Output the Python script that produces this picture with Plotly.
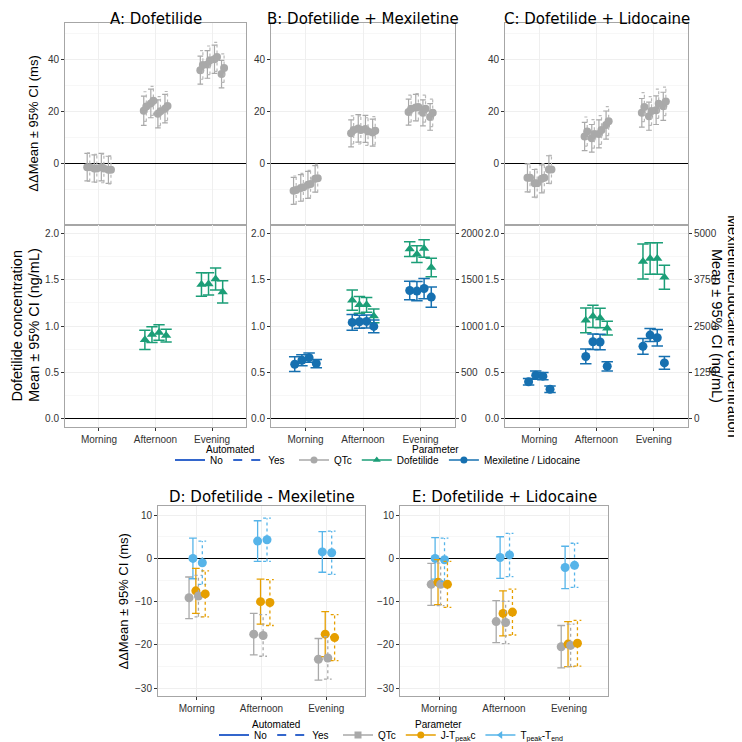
import plotly.graph_objects as go

W = H = 742

# ---------------- data ----------------
categories = ["Morning", "Afternoon", "Evening"]

# Top row: QTc  ddMean (ms); per category 4 sub-timepoints, Automated No / Yes
qtc_a_no = [[-1.5, -2.0, -1.5, -2.5], [20.2, 23.0, 19.0, 21.0], [35.8, 38.0, 40.0, 34.3]]
qtc_a_yes = [[-1.5, -2.0, -2.0, -2.5], [21.8, 24.0, 20.0, 22.0], [37.8, 39.6, 40.9, 36.6]]
qtc_a_ci_no = [[5.3, 5.2, 5.3, 5.2], [5.6, 5.5, 5.4, 5.5], [5.4, 5.3, 5.4, 5.3]]
qtc_a_ci_yes = [[5.5, 5.4, 5.5, 5.4], [5.7, 5.6, 5.6, 5.6], [5.5, 5.5, 5.6, 5.5]]

qtc_b_no = [[-10.6, -9.5, -8.3, -6.0], [11.5, 13.4, 13.2, 11.8], [19.7, 21.4, 19.4, 17.8]]
qtc_b_yes = [[-10.3, -9.2, -8.0, -5.8], [12.8, 12.8, 12.2, 12.5], [21.0, 21.6, 21.0, 19.4]]
qtc_b_ci_no = [[5.2, 5.1, 5.2, 5.1], [5.2, 5.3, 5.2, 5.2], [5.0, 5.1, 5.0, 5.1]]
qtc_b_ci_yes = [[5.4, 5.3, 5.3, 5.4], [5.4, 5.4, 5.3, 5.4], [5.2, 5.2, 5.2, 5.3]]

qtc_c_no = [[-5.6, -7.7, -6.0, -2.4], [10.3, 9.6, 11.3, 14.7], [19.4, 18.1, 20.4, 21.9]]
qtc_c_yes = [[-5.6, -7.7, -5.6, -2.4], [12.2, 11.3, 12.8, 16.2], [21.6, 20.1, 22.9, 23.8]]
qtc_c_ci_no = [[5.4, 5.3, 5.4, 5.3], [5.4, 5.3, 5.4, 5.4], [5.5, 5.4, 5.5, 5.4]]
qtc_c_ci_yes = [[5.5, 5.5, 5.5, 5.4], [5.6, 5.5, 5.5, 5.6], [5.6, 5.5, 5.6, 5.5]]

# Middle row: concentrations (ng/mL); None = not measured
dof_a = [None, [0.85, 0.907, 0.93, 0.896], [1.45, 1.457, 1.51, 1.37]]
dof_a_ci = [None, [0.105, 0.085, 0.085, 0.068], [0.128, 0.12, 0.12, 0.12]]
dof_b = [None, [1.28, 1.23, 1.23, 1.11], [1.835, 1.78, 1.84, 1.635]]
dof_b_ci = [None, [0.11, 0.09, 0.08, 0.075], [0.08, 0.09, 0.095, 0.1]]
dof_c = [None, [1.062, 1.105, 1.087, 0.977], [1.70, 1.733, 1.733, 1.53]]
dof_c_ci = [None, [0.135, 0.12, 0.105, 0.075], [0.19, 0.17, 0.17, 0.13]]
mex_b = [[586, 629, 657, 593], [1039, 1046, 1050, 996], [1386, 1379, 1407, 1314]]
mex_b_ci = [[80, 60, 50, 45], [85, 70, 70, 70], [100, 105, 110, 110]]
lido_c = [[990, 1168, 1140, 785], [1675, 2075, 2068, 1408], [1950, 2255, 2183, 1500]]
lido_c_ci = [[88, 112, 100, 88], [200, 212, 212, 125], [212, 175, 225, 175]]

# Bottom row: ddMean (ms) per category, Automated No / Yes
d_qtc_no = [-9.1, -17.5, -23.3];  d_qtc_no_ci = [4.8, 4.8, 4.8]
d_qtc_yes = [-8.7, -17.8, -23.0]; d_qtc_yes_ci = [4.8, 4.8, 4.9]
d_jt_no = [-7.5, -10.0, -17.5];   d_jt_no_ci = [5.2, 5.2, 5.2]
d_jt_yes = [-8.2, -10.2, -18.3];  d_jt_yes_ci = [5.3, 5.3, 5.3]
d_tp_no = [0.0, 4.0, 1.5];        d_tp_no_ci = [4.7, 4.7, 4.7]
d_tp_yes = [-1.0, 4.3, 1.3];      d_tp_yes_ci = [5.0, 5.0, 5.0]

e_qtc_no = [-6.0, -14.6, -20.4];  e_qtc_no_ci = [4.85, 4.85, 4.9]
e_qtc_yes = [-6.0, -14.8, -20.1]; e_qtc_yes_ci = [4.9, 4.9, 4.9]
e_jt_no = [-5.5, -12.7, -19.8];   e_jt_no_ci = [5.2, 5.2, 5.2]
e_jt_yes = [-6.0, -12.4, -19.6];  e_jt_yes_ci = [5.3, 5.3, 5.3]
e_tp_no = [0.0, 0.2, -2.1];       e_tp_no_ci = [4.8, 4.8, 4.9]
e_tp_yes = [-0.3, 0.8, -1.6];     e_tp_yes_ci = [5.0, 5.0, 5.1]

# ---------------- styles ----------------
GRAY = "#a9a9a9"
GRAY_DOT = "#b8b8b8"
GREEN = "#1b9e77"
BLUE = "#1670b0"
ORANGE = "#e69f00"
SKY = "#56b4e9"
LEG_BLUE = "#3366cc"
BORDER = "#a6a6a6"
GRID = "#efefef"
GRID_MINOR = "#f7f7f7"
TXT = "#333333"
FONT = "Liberation Sans, Arial, sans-serif"
TFONT = "DejaVu Sans, Verdana, sans-serif"

sub_off = [-0.1875, -0.0625, 0.0625, 0.1875]
auto_off = {"No": -0.02, "Yes": 0.025}
de_off = {"qtc_no": -0.12, "tp_no": -0.06, "jt_no": -0.015,
          "qtc_yes": 0.025, "tp_yes": 0.085, "jt_yes": 0.13}

fig = go.Figure()


def add_err(xs, ys, cis, color, bar_color, dash, symbol, size, xa, ya, cap, bw=1.2):
    ex, ey = [], []
    for x, y, c in zip(xs, ys, cis):
        lo, hi = y - c, y + c
        ex += [x, x, None, x - cap, x + cap, None, x - cap, x + cap, None]
        ey += [lo, hi, None, hi, hi, None, lo, lo, None]
    fig.add_trace(go.Scatter(x=ex, y=ey, mode="lines",
                             line=dict(color=bar_color, width=bw, dash=dash),
                             xaxis=xa, yaxis=ya, showlegend=False, hoverinfo="skip"))
    fig.add_trace(go.Scatter(x=xs, y=ys, mode="markers",
                             marker=dict(color=color, symbol=symbol, size=size, line=dict(width=0)),
                             xaxis=xa, yaxis=ya, showlegend=False))


def sub_series(vals, cis, extra=0.0):
    xs, ys, cs = [], [], []
    for ci_idx, (v, c) in enumerate(zip(vals, cis)):
        if v is None:
            continue
        for j in range(len(v)):
            xs.append(ci_idx + 1 + sub_off[j] + extra)
            ys.append(v[j])
            cs.append(c[j])
    return xs, ys, cs


# top row
for (no, yes, cno, cyes, xa, ya) in [
    (qtc_a_no, qtc_a_yes, qtc_a_ci_no, qtc_a_ci_yes, "x", "y"),
    (qtc_b_no, qtc_b_yes, qtc_b_ci_no, qtc_b_ci_yes, "x2", "y2"),
    (qtc_c_no, qtc_c_yes, qtc_c_ci_no, qtc_c_ci_yes, "x3", "y3"),
]:
    xs, ys, cs = sub_series(no, cno, auto_off["No"])
    add_err(xs, ys, cs, GRAY, GRAY, "solid", "circle", 8, xa, ya, 0.05)
    xs, ys, cs = sub_series(yes, cyes, auto_off["Yes"])
    add_err(xs, ys, cs, GRAY, GRAY_DOT, "dot", "circle", 8, xa, ya, 0.05)

# middle row
for (vals, cis, xa, ya) in [(dof_a, dof_a_ci, "x4", "y4"), (dof_b, dof_b_ci, "x5", "y5"),
                            (dof_c, dof_c_ci, "x6", "y6")]:
    xs, ys, cs = sub_series(vals, cis)
    add_err(xs, ys, cs, GREEN, GREEN, "solid", "triangle-up", 9, xa, ya, 0.1, 1.5)
for (vals, cis, xa, ya) in [(mex_b, mex_b_ci, "x5", "y7"), (lido_c, lido_c_ci, "x6", "y8")]:
    xs, ys, cs = sub_series(vals, cis)
    add_err(xs, ys, cs, BLUE, BLUE, "solid", "circle", 9, xa, ya, 0.1, 1.5)

# bottom row
cat_pos = [1, 2, 3]
for (series, xa, ya) in [
    ([("qtc_no", d_qtc_no, d_qtc_no_ci, GRAY, "solid"), ("tp_no", d_tp_no, d_tp_no_ci, SKY, "solid"),
      ("jt_no", d_jt_no, d_jt_no_ci, ORANGE, "solid"), ("qtc_yes", d_qtc_yes, d_qtc_yes_ci, GRAY, "dot"),
      ("tp_yes", d_tp_yes, d_tp_yes_ci, SKY, "dot"), ("jt_yes", d_jt_yes, d_jt_yes_ci, ORANGE, "dot")],
     "x9", "y9"),
    ([("qtc_no", e_qtc_no, e_qtc_no_ci, GRAY, "solid"), ("tp_no", e_tp_no, e_tp_no_ci, SKY, "solid"),
      ("jt_no", e_jt_no, e_jt_no_ci, ORANGE, "solid"), ("qtc_yes", e_qtc_yes, e_qtc_yes_ci, GRAY, "dot"),
      ("tp_yes", e_tp_yes, e_tp_yes_ci, SKY, "dot"), ("jt_yes", e_jt_yes, e_jt_yes_ci, ORANGE, "dot")],
     "x10", "y10"),
]:
    for key, vals, cis, col, dash in series:
        xs = [p + de_off[key] for p in cat_pos]
        add_err(xs, vals, cis, col, col, dash, "circle", 9, xa, ya, 0.06, 1.3)

# legend entries
def leg(name, legend, color, dash="solid", symbol=None):
    mode = "lines+markers" if symbol else "lines"
    fig.add_trace(go.Scatter(x=[None], y=[None], mode=mode, name=name, legend=legend,
                             line=dict(color=color, width=2 if not symbol else 1.5, dash=dash),
                             marker=dict(symbol=symbol or "circle", size=7, color=color),
                             xaxis="x", yaxis="y"))

leg("No", "legend", LEG_BLUE)
leg("Yes", "legend", LEG_BLUE, "dash")
leg("QTc", "legend2", GRAY, symbol="circle")
leg("Dofetilide", "legend2", GREEN, symbol="triangle-up")
leg("Mexiletine / Lidocaine", "legend2", BLUE, symbol="circle")
leg("No", "legend3", LEG_BLUE)
leg("Yes", "legend3", LEG_BLUE, "dash")
leg("QTc", "legend4", GRAY, symbol="square")
leg("J-T<sub>peak</sub>c", "legend4", ORANGE, symbol="circle")
leg("T<sub>peak</sub>-T<sub>end</sub>", "legend4", SKY, symbol="triangle-left")

# ---------------- layout ----------------
def dx(a, b):
    return [a / W, b / W]

def dy(top, bottom):
    return [1 - bottom / H, 1 - top / H]

lay = {}
tf = dict(size=10, color=TXT, family=FONT)

def xax(name, dom, anchor, labels):
    lay[name] = dict(domain=dom, anchor=anchor, range=[0.4, 3.6], tickvals=cat_pos,
                     ticktext=categories, showticklabels=labels,
                     ticks="outside" if labels else "", ticklen=3, tickcolor=TXT,
                     showline=True, mirror=True, linecolor=BORDER, linewidth=1,
                     showgrid=True, gridcolor=GRID, zeroline=False, tickfont=tf)

def yax(name, dom, anchor, rng, tickvals, ticktext, minor_vals):
    d = dict(domain=dom, anchor=anchor, range=rng, tickvals=tickvals,
             ticks="outside", ticklen=3, tickcolor=TXT, tickfont=tf,
             showline=True, mirror=True, linecolor=BORDER, linewidth=1,
             showgrid=True, gridcolor=GRID,
             minor=dict(tickvals=minor_vals, showgrid=True, gridcolor=GRID_MINOR, ticks=""),
             zeroline=True, zerolinecolor="black", zerolinewidth=1.2)
    if ticktext is not None:
        d["ticktext"] = ticktext
    lay[name] = d

colsx = [dx(57, 238), dx(263, 447), dx(497, 680)]
top_dom = dy(15, 219)
mid_dom = dy(219, 424)

top_ticks = [0, 20, 40]
top_minor = [-10, 10, 30, 50]
mid_ticks = [0, 0.5, 1.0, 1.5, 2.0]
mid_text = ["0.0", "0.5", "1.0", "1.5", "2.0"]
mid_minor = [0.25, 0.75, 1.25, 1.75]

for i in range(3):
    n = i + 1
    xax("xaxis" if n == 1 else f"xaxis{n}", colsx[i], "y" if n == 1 else f"y{n}", False)
    yax("yaxis" if n == 1 else f"yaxis{n}", top_dom, "x" if n == 1 else f"x{n}",
        [-23.6, 54], top_ticks, [str(t) for t in top_ticks], top_minor)
    m = i + 4
    xax(f"xaxis{m}", colsx[i], f"y{m}", True)
    yax(f"yaxis{m}", mid_dom, f"x{m}", [-0.1, 2.1], mid_ticks, mid_text, mid_minor)

right_common = dict(side="right", showgrid=False, zeroline=False, showline=False,
                    ticks="outside", ticklen=3, tickcolor=TXT, tickfont=tf)
lay["yaxis7"] = dict(overlaying="y5", anchor="x5", range=[-100, 2100],
                     tickvals=[0, 500, 1000, 1500, 2000], **right_common)
lay["yaxis8"] = dict(overlaying="y6", anchor="x6", range=[-250, 5250],
                     tickvals=[0, 1250, 2500, 3750, 5000], **right_common)

bot_dom = dy(503, 696)
for n, xd in [(9, dx(150, 357)), (10, dx(392, 600))]:
    xax(f"xaxis{n}", xd, f"y{n}", True)
    yax(f"yaxis{n}", bot_dom, f"x{n}", [-31.9, 12.2], [-30, -20, -10, 0, 10],
        None, [-25, -15, -5, 5])

def ann(text, px, py, size, family=FONT, angle=0, color="black", yanchor="middle"):
    return dict(text=text, x=px / W, y=1 - py / H, xref="paper", yref="paper",
                xanchor="center", yanchor=yanchor, showarrow=False, textangle=angle,
                font=dict(size=size, family=family, color=color))

annotations = [
    ann("A: Dofetilide", 147.5, 0, 15, TFONT, yanchor="top"),
    ann("B: Dofetilide + Mexiletine", 355, 0, 15, TFONT, yanchor="top"),
    ann("C: Dofetilide + Lidocaine", 588.5, 0, 15, TFONT, yanchor="top"),
    ann("D: Dofetilide - Mexiletine", 253.5, 494, 15, TFONT),
    ann("E: Dofetilide + Lidocaine", 496, 494, 15, TFONT),
    ann("ΔΔMean ± 95% CI (ms)", 26, 117, 13, angle=-90),
    ann("ΔΔMean ± 95% CI (ms)", 116, 600, 13, angle=-90),
    ann("Dofetilide concentration", 9, 321, 14.5, angle=-90),
    ann("Mean ± 95% CI (ng/mL)", 25.5, 321, 14.5, angle=-90),
    ann("Mexiletine/Lidocaine concentration", 725.5, 321, 14.5, angle=90),
    ann("Mean ± 95% CI (ng/mL)", 709.5, 321, 14.5, angle=90),
    # legend titles
    ann("Automated", 222, 446, 10),
    ann("Parameter", 428, 446, 10),
    ann("Automated", 268, 724, 10),
    ann("Parameter", 430, 724, 10),
]

legfont = dict(size=10, family=FONT, color="black")
def legend_cfg(x, y, xanchor):
    return dict(orientation="h", x=x / W, y=1 - y / H, xanchor=xanchor, yanchor="middle",
                font=legfont, bgcolor="rgba(0,0,0,0)", itemwidth=30, tracegroupgap=0)

fig.update_layout(
    width=W, height=H, margin=dict(l=0, r=0, t=0, b=0),
    paper_bgcolor="white", plot_bgcolor="white",
    showlegend=True,
    annotations=annotations,
    legend=legend_cfg(282, 457, "right"),
    legend2=legend_cfg(286, 457, "left"),
    legend3=legend_cfg(326, 735, "right"),
    legend4=legend_cfg(330, 735, "left"),
    font=dict(family=FONT, color=TXT),
    **lay,
)

fig.write_html("out.html")
